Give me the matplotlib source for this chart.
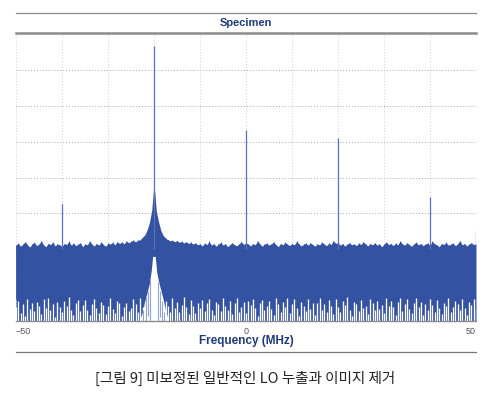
import numpy as np
import matplotlib
matplotlib.use('Agg')
import matplotlib.pyplot as plt
from matplotlib.lines import Line2D

freq = np.arange(-50, 50.25, 0.5)

noise_top = [
    -58.9, -58.3, -59.2, -58.6, -57.9, -58.8, -59.4, -58.5, -58.1, -59.0,
    -58.6, -57.6, -58.9, -59.3, -58.4, -58.7, -58.0, -59.1, -58.5, -58.8,
    -59.2, -58.4, -58.7, -57.8, -58.9, -58.3, -59.0, -58.6, -58.2, -59.3,
    -58.5, -58.8, -57.7, -58.6, -59.1, -58.4, -58.9, -58.0, -58.7, -59.2,
    -58.3, -58.6, -58.1, -58.8, -57.9, -58.4, -58.0, -58.5, -57.7, -58.2,
    -57.8, -57.5, -58.0, -57.4, -57.6, -57.2, -57.5, -57.0, -57.3, -57.1,
    -57.0, -57.2, -57.1, -57.4, -57.2, -57.6, -57.3, -57.7, -57.5, -57.9,
    -57.6, -58.1, -57.8, -58.3, -57.9, -58.4, -58.1, -58.6, -58.2, -58.8,
    -58.5, -59.1, -58.3, -58.7, -57.8, -58.9, -58.4, -59.2, -58.6, -58.1,
    -58.9, -58.4, -59.3, -58.7, -58.2, -58.8, -59.0, -58.5, -57.9, -58.7,
    -58.2, -58.6, -59.1, -58.4, -58.8, -57.7, -58.5, -59.2, -58.6, -58.3,
    -58.9, -58.5, -58.0, -58.7, -59.3, -58.4, -58.8, -58.1, -58.6, -59.0,
    -58.4, -58.8, -57.8, -58.5, -59.1, -58.6, -58.3, -58.9, -58.2, -58.7,
    -59.2, -58.5, -58.8, -58.0, -58.6, -59.0, -58.3, -58.7, -57.6, -58.4,
    -58.1, -58.9, -58.4, -59.2, -58.6, -58.2, -58.8, -58.5, -59.0, -58.3,
    -58.7, -57.9, -58.6, -59.1, -58.4, -58.8, -58.2, -58.9, -58.5, -59.3,
    -58.6, -58.0, -58.7, -58.4, -59.0, -58.3, -58.8, -57.7, -58.5, -58.9,
    -58.2, -58.7, -59.2, -58.5, -58.1, -58.8, -58.4, -59.0, -58.6, -58.3,
    -58.9, -57.8, -58.5, -58.8, -59.3, -58.4, -58.7, -58.1, -58.9, -58.6,
    -58.3, -59.0, -58.5, -57.6, -58.8, -58.4, -59.1, -58.6, -58.2, -58.7,
    -58.5,
]

# tops of the white gaps that break up the bottom of the noise band
gap_top = [
    -76.1, -74.3, -77.8, -75.2, -78.6, -73.9, -76.7, -75.0, -77.3, -74.6,
    -75.8, -78.1, -74.0, -76.5, -73.6, -77.0, -75.4, -78.9, -74.8, -76.2,
    -77.6, -74.5, -75.9, -73.4, -76.8, -78.3, -75.1, -74.2, -77.1, -75.6,
    -74.1, -76.9, -78.4, -75.3, -73.8, -76.4, -77.7, -74.7, -75.5, -78.0,
    -75.7, -73.5, -76.6, -77.9, -74.4, -75.0, -78.5, -76.0, -74.9, -77.2,
    -76.3, -74.0, -75.4, -77.5, -73.7, -76.1, -74.6, -78.2, -75.8, -74.3,
    -77.0, -75.2, -73.9, -76.7, -78.8, -74.5, -75.9, -77.4, -73.6, -76.3,
    -74.8, -77.6, -75.5, -73.4, -76.0, -78.1, -74.2, -75.7, -77.8, -74.9,
    -76.5, -74.1, -77.3, -75.0, -73.8, -76.8, -78.4, -74.6, -75.3, -77.1,
    -73.5, -75.8, -76.9, -74.4, -78.0, -75.1, -73.7, -77.5, -76.2, -74.7,
    -77.9, -74.3, -75.6, -73.9, -76.4, -78.6, -75.0, -74.1, -77.0, -75.9,
    -74.5, -76.7, -78.3, -73.6, -75.2, -77.4, -74.8, -76.1, -73.5, -77.7,
    -75.4, -73.8, -76.3, -78.7, -74.6, -75.7, -77.2, -74.0, -76.6, -75.1,
    -78.2, -74.9, -73.7, -76.8, -75.3, -77.6, -74.2, -75.8, -78.0, -73.9,
    -76.0, -77.5, -74.4, -75.5, -73.4, -76.9, -78.5, -74.7, -75.2, -77.3,
    -74.1, -76.4, -75.7, -78.1, -73.8, -75.0, -77.0, -74.3, -76.7, -75.6,
    -77.8, -73.6, -75.9, -74.5, -76.2, -78.4, -74.8, -73.5, -77.1, -75.3,
    -74.0, -76.6, -77.9, -75.1, -73.7, -76.0, -74.6, -78.2, -75.4, -76.8,
    -73.9, -75.5, -77.4, -74.2, -76.3, -78.0, -74.9, -75.8, -73.6, -77.6,
    -76.1, -74.4, -75.2, -77.0, -73.8, -76.5, -78.3, -74.7, -75.6, -74.0,
    -76.4,
]

# phase-noise skirt around the -20 MHz carrier
skirt_freq = [-24, -23, -22, -21.5, -21, -20.5, -20.2, -20, -19.8, -19.5, -19, -18.5, -18, -17, -16]
skirt_top = [-58.2, -57.3, -56.0, -54.6, -52.6, -49.2, -44.8, -42.0, -44.6, -49.4, -52.4, -54.8, -56.2, -57.4, -58.1]

# lower edge of the noise lifts up under the carrier (white notch)
notch_freq = [-23.2, -22.5, -22.0, -21.5, -21.0, -20.6, -20.3, -20.0, -19.7, -19.4, -19.0, -18.5, -18.0, -17.5, -16.8]
notch_level = [-80, -77.5, -74.5, -72.0, -69.5, -66.0, -62.0, -58.5, -62.5, -66.5, -69.0, -71.5, -74.0, -77.0, -80]
notch_streak_f = [-22.3, -21.8, -21.2, -20.8, -19.2, -18.8, -18.3, -17.8]
notch_streak_hi = [-77.0, -73.0, -71.5, -68.0, -69.0, -71.5, -74.5, -77.5]
notch_streak_lo = [-80.0, -80.0, -78.5, -80.0, -80.0, -79.0, -80.0, -80.0]

# carrier, LO leakage, image and other spurs
spur_freq = [-20, -40, 0, 20, 40, 50]
spur_level = [-3.3, -47.4, -26.8, -29.0, -45.3, -54.6]

x_ticks = [-50, 0, 50]
x_tick_labels = ['\u221250', '0', '50']

blue = '#3452a2'
title_blue = '#1f3a78'

fig = plt.figure(figsize=(4.91, 3.97), dpi=100)
ax = fig.add_axes([16 / 491, 76 / 397, 460 / 491, 287 / 397])

ax.set_xlim(-50, 50)
ax.set_ylim(-80, 0)

# grid
for gy in range(-70, 0, 10):
    ax.axhline(gy, color='#a8a8a8', lw=0.7, ls=(0, (1, 2)), zorder=0)
for gx in range(-50, 51, 10):
    ax.axvline(gx, color='#cfcfcf', lw=0.7, ls=(0, (1, 2)), zorder=0)

# noise
ax.fill_between(freq, -80, noise_top, color=blue, lw=0, zorder=2)
ax.vlines(freq, -74, noise_top, color=blue, lw=0.6, zorder=2)
ax.vlines(freq, -80, gap_top, color='white', lw=0.95, zorder=2.5)

ax.fill_between(notch_freq, -80, notch_level, color='white', lw=0, zorder=3)
ax.vlines(notch_streak_f, notch_streak_lo, notch_streak_hi, color='#95a2d4', lw=0.8, zorder=3)
ax.fill_between(skirt_freq, -62, skirt_top, color=blue, lw=0, zorder=3)

ax.vlines(spur_freq, -60, spur_level, color='#5a6fc0', lw=0.9, zorder=4)

for s in ['top', 'left', 'right']:
    ax.spines[s].set_visible(False)
ax.spines['bottom'].set_color('#8a8a8a')
ax.spines['bottom'].set_linewidth(1.0)
ax.spines['bottom'].set_zorder(5)
ax.set_yticks([])
ax.set_xticks(x_ticks)
ax.set_xticklabels(x_tick_labels, fontsize=6.5, color='#555555', family='Liberation Sans')
ax.tick_params(axis='x', length=0, pad=4)
labels = ax.get_xticklabels()
labels[0].set_ha('left')
labels[-1].set_ha('right')

fig.text(246 / 491, 1 - 341 / 397, 'Frequency (MHz)', ha='center', va='center',
         fontsize=8.5, fontweight='bold', color=title_blue, family='Liberation Sans')
fig.text(246 / 491, 1 - 23 / 397, 'Specimen', ha='center', va='center',
         fontsize=8, fontweight='bold', color=title_blue, family='Liberation Sans')

x0, x1 = 16 / 491, 476 / 491
fig.add_artist(Line2D([x0, x1], [1 - 12.5 / 397] * 2, color='#8a8a8a', lw=0.9))
fig.add_artist(Line2D([x0, x1], [1 - 33 / 397] * 2, color='#8a8a8a', lw=1.8))
fig.add_artist(Line2D([x0, x1], [1 - 351.5 / 397] * 2, color='#777777', lw=0.9))

fig.text(0.5, 1 - 378 / 397, '[그림 9] 미보정된 일반적인 LO 누출과 이미지 제거', ha='center', va='center',
         fontsize=10.5, color='#222222', family=['Noto Sans CJK KR', 'DejaVu Sans'])

fig.savefig('out.png', dpi=100)
